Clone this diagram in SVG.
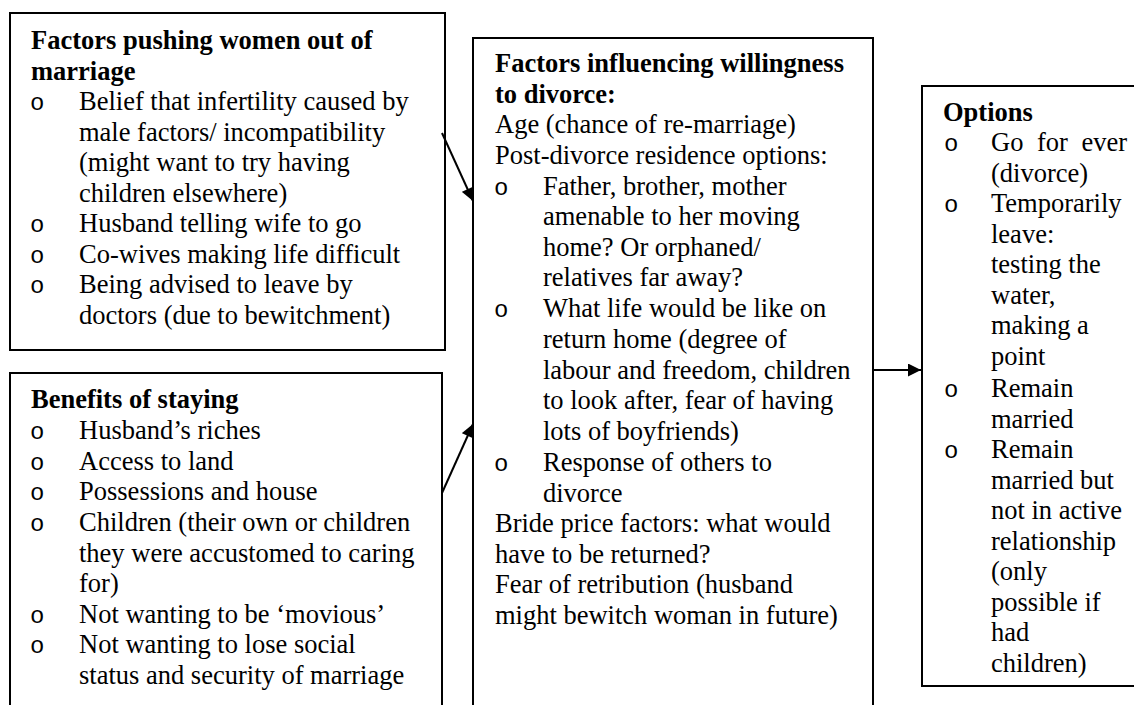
<svg xmlns="http://www.w3.org/2000/svg" width="1134" height="705" viewBox="0 0 1134 705">
<style>
.box{fill:#fff;stroke:#000;stroke-width:2}
text{font-family:"Liberation Serif","Times New Roman",serif;font-size:26.5px;fill:#000}
.b{font-weight:bold}
.o{font-family:"Liberation Mono","Courier New",monospace;font-size:24px}
.conn{stroke:#000;stroke-width:2;fill:none}
</style>
<defs>
<marker id="ah" viewBox="0 0 10 10" refX="10" refY="5" markerWidth="14" markerHeight="13" markerUnits="userSpaceOnUse" orient="auto">
<path d="M0,0 L10,5 L0,10 Z" fill="#000"/>
</marker>
</defs>
<rect width="1134" height="705" fill="#fff"/>
<g id="pushing">
<rect class="box" x="10" y="13" width="435" height="337"/>
<text class="b" x="31" y="49">Factors pushing women out of</text>
<text class="b" x="31" y="79.5">marriage</text>
<text class="o" x="30" y="110">o</text><text x="79" y="110">Belief that infertility caused by</text>
<text x="79" y="140.5">male factors/ incompatibility</text>
<text x="79" y="171">(might want to try having</text>
<text x="79" y="201.5">children elsewhere)</text>
<text class="o" x="30" y="232">o</text><text x="79" y="232">Husband telling wife to go</text>
<text class="o" x="30" y="262.5">o</text><text x="79" y="262.5">Co-wives making life difficult</text>
<text class="o" x="30" y="293">o</text><text x="79" y="293">Being advised to leave by</text>
<text x="79" y="323.5">doctors (due to bewitchment)</text>
</g>
<g id="benefits">
<rect class="box" x="10" y="373" width="432" height="350"/>
<text class="b" x="31" y="408">Benefits of staying</text>
<text class="o" x="30" y="439">o</text><text x="79" y="439">Husband’s riches</text>
<text class="o" x="30" y="469.5">o</text><text x="79" y="469.5">Access to land</text>
<text class="o" x="30" y="500">o</text><text x="79" y="500">Possessions and house</text>
<text class="o" x="30" y="531">o</text><text x="79" y="531">Children (their own or children</text>
<text x="79" y="561.5">they were accustomed to caring</text>
<text x="79" y="592">for)</text>
<text class="o" x="30" y="622.5">o</text><text x="79" y="622.5">Not wanting to be ‘movious’</text>
<text class="o" x="30" y="653">o</text><text x="79" y="653">Not wanting to lose social</text>
<text x="79" y="683.5">status and security of marriage</text>
</g>
<g id="willingness">
<rect class="box" x="473" y="38" width="400" height="690"/>
<text class="b" x="495" y="72">Factors influencing willingness</text>
<text class="b" x="495" y="102.5">to divorce:</text>
<text x="495" y="133">Age (chance of re-marriage)</text>
<text x="495" y="163.5">Post-divorce residence options:</text>
<text class="o" x="494" y="194.5">o</text><text x="543" y="194.5">Father, brother, mother</text>
<text x="543" y="225">amenable to her moving</text>
<text x="543" y="255.5">home? Or orphaned/</text>
<text x="543" y="286">relatives far away?</text>
<text class="o" x="494" y="317">o</text><text x="543" y="317">What life would be like on</text>
<text x="543" y="347.5">return home (degree of</text>
<text x="543" y="378.5">labour and freedom, children</text>
<text x="543" y="409">to look after, fear of having</text>
<text x="543" y="439.5">lots of boyfriends)</text>
<text class="o" x="494" y="471">o</text><text x="543" y="471">Response of others to</text>
<text x="543" y="501.5">divorce</text>
<text x="495" y="532">Bride price factors: what would</text>
<text x="495" y="562.5">have to be returned?</text>
<text x="495" y="593">Fear of retribution (husband</text>
<text x="495" y="623.5">might bewitch woman in future)</text>
</g>
<g id="options">
<rect class="box" x="922" y="86" width="230" height="600"/>
<text class="b" x="943" y="121">Options</text>
<text class="o" x="944" y="151">o</text><text x="991" y="151" style="word-spacing:7px">Go for ever</text>
<text x="991" y="181.5">(divorce)</text>
<text class="o" x="944" y="212">o</text><text x="991" y="212">Temporarily</text>
<text x="991" y="242.5">leave:</text>
<text x="991" y="273">testing the</text>
<text x="991" y="303.5">water,</text>
<text x="991" y="334">making a</text>
<text x="991" y="364.5">point</text>
<text class="o" x="944" y="397">o</text><text x="991" y="397">Remain</text>
<text x="991" y="427.5">married</text>
<text class="o" x="944" y="458">o</text><text x="991" y="458">Remain</text>
<text x="991" y="488.5">married but</text>
<text x="991" y="519">not in active</text>
<text x="991" y="549.5">relationship</text>
<text x="991" y="580">(only</text>
<text x="991" y="610.5">possible if</text>
<text x="991" y="641">had</text>
<text x="991" y="671.5">children)</text>
</g>
<g id="connectors">
<line class="conn" x1="442" y1="133" x2="473" y2="201" marker-end="url(#ah)"/>
<line class="conn" x1="442" y1="493" x2="473" y2="424" marker-end="url(#ah)"/>
<line class="conn" x1="873" y1="370" x2="921" y2="370" marker-end="url(#ah)"/>
</g>
</svg>
